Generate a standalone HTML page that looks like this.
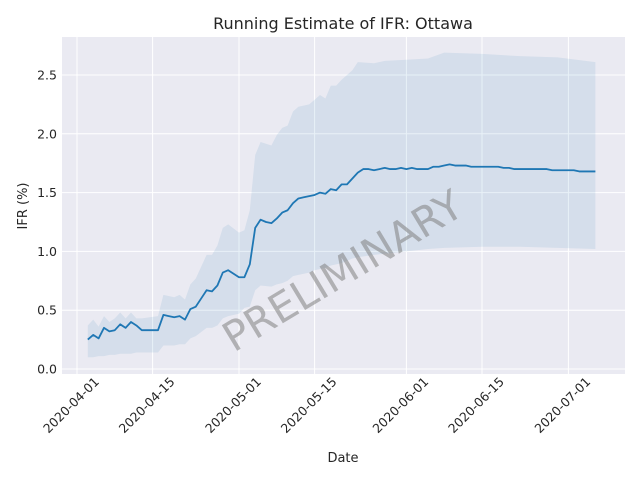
<!DOCTYPE html>
<html><head><meta charset="utf-8"><style>body{margin:0;background:#fff}svg{display:block;font-family:"DejaVu Sans","Liberation Sans",sans-serif}</style></head>
<body>
<svg id="chart" width="640" height="480">
<rect x="62" y="37" width="563" height="337" fill="#eaeaf2"/>
<g id="grid"></g>
<g id="band"></g>
<g id="line"></g>
<g id="axes"></g>
<text x="343" y="29" text-anchor="middle" font-size="16" fill="#262626">Running Estimate of IFR: Ottawa</text>
<text x="343" y="462" text-anchor="middle" font-size="13" fill="#262626">Date</text>
<text transform="translate(27,206) rotate(-90)" text-anchor="middle" font-size="13" fill="#262626">IFR (%)</text>
<text transform="translate(350,283) rotate(-31)" text-anchor="middle" font-size="41" fill="#808080" fill-opacity="0.55">PRELIMINARY</text>
</svg>
<script>
const lineValues=[0.25,0.29,0.26,0.35,0.32,0.33,0.38,0.35,0.40,0.37,0.33,0.33,0.33,0.33,0.46,0.45,0.44,0.45,0.42,0.51,0.53,0.60,0.67,0.66,0.71,0.82,0.84,0.81,0.78,0.78,0.89,1.20,1.27,1.25,1.24,1.28,1.33,1.35,1.41,1.45,1.46,1.47,1.48,1.50,1.49,1.53,1.52,1.57,1.57,1.62,1.67,1.70,1.70,1.69,1.70,1.71,1.70,1.70,1.71,1.70,1.71,1.70,1.70,1.70,1.72,1.72,1.73,1.74,1.73,1.73,1.73,1.72,1.72,1.72,1.72,1.72,1.72,1.71,1.71,1.70,1.70,1.70,1.70,1.70,1.70,1.70,1.69,1.69,1.69,1.69,1.69,1.68,1.68,1.68,1.68];
const lineStartDay=2;
const bandDays=[2,3,4,5,6,7,8,9,10,11,12,15,16,18,19,20,21,22,24,25,26,27,28,30,31,32,33,34,36,37,38,39,40,41,43,44,45,46,47,48,49,51,52,55,57,61,65,68,75,82,89,96];
const bandHi=[.37,.42,.36,.45,.40,.43,.48,.43,.48,.43,.43,.45,.63,.61,.63,.59,.72,.77,.97,.97,1.05,1.20,1.23,1.16,1.18,1.35,1.82,1.93,1.90,1.99,2.05,2.07,2.19,2.23,2.25,2.29,2.33,2.30,2.41,2.41,2.46,2.54,2.61,2.60,2.62,2.63,2.64,2.69,2.68,2.66,2.65,2.61];
const bandLo=[.10,.10,.11,.11,.12,.12,.13,.13,.13,.14,.14,.14,.20,.20,.21,.21,.26,.28,.35,.35,.37,.43,.45,.47,.52,.53,.67,.71,.70,.72,.73,.75,.79,.80,.82,.84,.85,.86,.88,.89,.90,.94,.95,.97,.98,1.00,1.02,1.03,1.04,1.04,1.03,1.02];
const xTickDays=[0,14,30,44,61,75,91];
const xTickLabels=["2020-04-01","2020-04-15","2020-05-01","2020-05-15","2020-06-01","2020-06-15","2020-07-01"];
const yTicks=[0,0.5,1,1.5,2,2.5];
const yTickLabels=["0.0","0.5","1.0","1.5","2.0","2.5"];
const NS="http://www.w3.org/2000/svg";
const X=d=>77+5.4*d;
const Y=v=>369-117.6*v;
function mk(tag,attrs,parent){const e=document.createElementNS(NS,tag);for(const k in attrs)e.setAttribute(k,attrs[k]);document.getElementById(parent).appendChild(e);return e;}
xTickDays.forEach((d,i)=>{
  const g=mk('line',{x1:X(d),x2:X(d),y1:37,y2:374,stroke:'#fff','stroke-width':1},'grid');
  
  
  const t=mk('text',{transform:`translate(${X(d)-6},${405}) rotate(-45)`,'text-anchor':'middle',dy:4.5,'font-size':12.5,fill:'#262626'},'axes');
  t.textContent=xTickLabels[i];
  
  
});
yTicks.forEach((v,i)=>{
  const g=mk('line',{x1:62,x2:625,y1:Y(v),y2:Y(v),stroke:'#fff','stroke-width':1},'grid');
  
  
  const t=mk('text',{x:57,y:Y(v)+4.5,'text-anchor':'end','font-size':12.5,fill:'#262626'},'axes');
  t.textContent=yTickLabels[i];
  
  
});
let pts=bandDays.map((d,i)=>X(d)+','+Y(bandHi[i]));
for(let i=bandDays.length-1;i>=0;i--)pts.push(X(bandDays[i])+','+Y(bandLo[i]));
const b=mk('polygon',{points:pts.join(' '),fill:'#1f77b4','fill-opacity':0.1},'band');


const lp=lineValues.map((v,i)=>X(lineStartDay+i)+','+Y(v)).join(' ');
const l=mk('polyline',{points:lp,fill:'none',stroke:'#1f77b4','stroke-width':1.8,'stroke-linejoin':'round'},'line');


</script>
</body></html>
